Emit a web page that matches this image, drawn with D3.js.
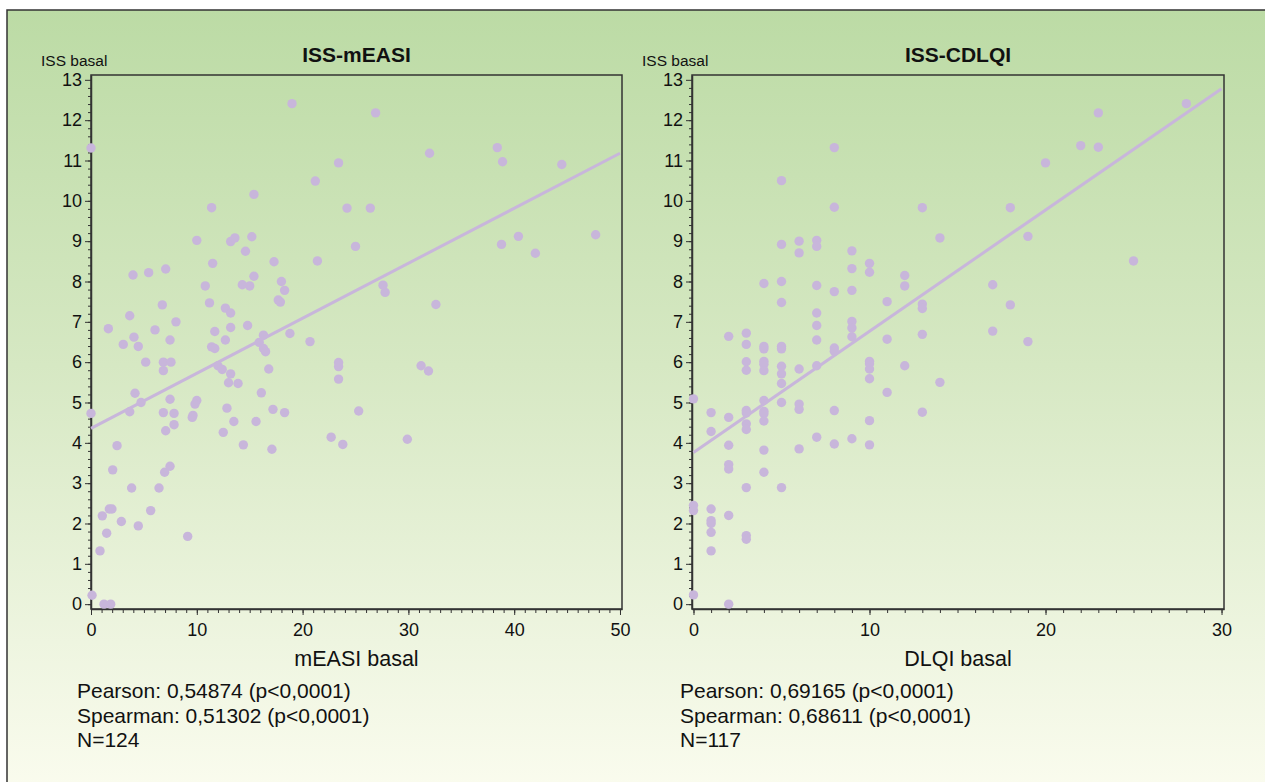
<!DOCTYPE html>
<html><head><meta charset="utf-8">
<script src="https://cdn.jsdelivr.net/npm/d3@7"></script>
<style>
body{margin:0;background:#fff;}
svg{display:block;font-family:"Liberation Sans",Arial,Helvetica,sans-serif;}
</style>
</head><body><svg id="c" width="1265" height="782"></svg>
<script>
// ---------- DATA ----------
const easiX = [0,19.0,11.4,15.4,21.2,23.4,26.9,32.0,38.4,38.9,44.5,24.2,26.4,25.0,38.8,40.4,42.0,47.7,27.6,27.8,32.6,
  23.4,23.4,23.4,31.2,31.9,25.3,22.7,23.8,29.9,10.0,13.2,13.6,15.2,14.6,11.5,21.4,17.3,3.97,5.45,7.06,15.4,18.0,10.8,14.3,15.0,18.3,
  11.2,6.74,17.7,17.9,12.7,13.2,3.66,8.03,1.64,6.05,13.2,14.8,11.7,16.3,18.8,20.7,4.06,3.05,4.47,7.47,12.7,11.4,11.7,15.9,16.3,16.5,
  5.17,6.84,7.56,6.84,12.0,12.4,16.8,13.2,13.0,13.9,4.16,16.1,7.47,4.73,10.0,9.83,0,3.66,6.84,7.85,12.85,17.2,18.3,7.06,7.85,9.64,9.57,
  12.5,13.5,15.6,14.4,17.1,2.46,2.05,3.84,6.43,6.96,7.47,1.73,1.98,1.07,2.87,4.47,5.64,1.48,0.85,9.14,0.1,1.23,1.86];
const easiY = [11.31,12.41,9.83,10.16,10.49,10.94,12.18,11.18,11.32,10.97,10.90,9.82,9.82,8.87,8.92,9.12,8.70,9.16,7.91,7.73,7.43,
  5.99,5.89,5.58,5.91,5.78,4.79,4.14,3.96,4.09,9.02,8.99,9.08,9.11,8.75,8.45,8.51,8.49,8.16,8.22,8.31,8.13,8.0,7.89,7.92,7.89,7.78,
  7.47,7.42,7.54,7.49,7.34,7.22,7.15,7.00,6.83,6.80,6.86,6.91,6.76,6.67,6.71,6.51,6.62,6.44,6.39,6.55,6.55,6.38,6.34,6.49,6.34,6.26,
  6.0,6.0,6.0,5.79,5.91,5.82,5.83,5.71,5.49,5.47,5.23,5.24,5.08,5.0,5.05,4.96,4.73,4.77,4.75,4.73,4.86,4.83,4.75,4.30,4.45,4.68,4.63,
  4.26,4.53,4.53,3.95,3.84,3.93,3.33,2.88,2.88,3.27,3.42,2.36,2.36,2.19,2.05,1.94,2.32,1.76,1.32,1.68,0.22,0,0];

const dlqiX = [0,0,0,0, 1,1,1,1,1,1,1, 2,2,2,2,2,2,2, 3,3,3,3,3,3,3,3,3,3,3, 4,4,4,4,4,4,4,4,4,4,4,4,
  5,5,5,5,5,5,5,5,5,5,5, 6,6,6,6,6,6, 7,7,7,7,7,7,7,7, 8,8,8,8,8,8,8, 9,9,9,9,9,9,9, 10,10,10,10,10,10,10,10,
  11,11,11, 12,12,12, 13,13,13,13,13, 14,14, 17,17, 18,18, 19,19, 20, 22, 23,23, 25, 28];
const dlqiY = [5.09,2.45,2.32,0.23, 4.75,4.28,2.36,2.07,2.0,1.78,1.32, 6.64,4.63,3.94,3.46,3.35,2.20,0.0,
  6.72,6.44,6.01,5.80,4.80,4.74,4.47,4.33,2.89,1.70,1.61, 7.95,6.39,6.33,6.02,5.95,5.79,5.05,4.78,4.72,4.54,3.82,3.27,
  10.50,8.92,8.0,7.48,6.39,6.33,5.90,5.71,5.47,5.0,2.89, 9.0,8.71,5.83,4.96,4.83,3.85,
  9.02,8.87,7.90,7.22,6.91,6.55,5.91,4.14, 11.32,9.84,7.75,6.35,6.27,4.80,3.97,
  8.76,8.32,7.78,7.01,6.85,6.63,4.10, 8.45,8.23,6.02,5.96,5.83,5.59,4.55,3.95,
  7.50,6.57,5.25, 8.15,7.89,5.91, 9.83,7.44,7.33,6.69,4.76, 9.08,5.50, 7.92,6.77, 9.83,7.42, 9.12,6.51,
  10.94, 11.37, 12.18,11.33, 8.51, 12.41];

const easiFitX = [0, 50];
const easiFitY = [4.36, 11.18];
const dlqiFitX = [0, 30];
const dlqiFitY = [3.76, 12.78];

const yTickValues = [0,1,2,3,4,5,6,7,8,9,10,11,12,13];
const easiTickValues = [0,10,20,30,40,50];
const dlqiTickValues = [0,10,20,30];

const titles = ["ISS-mEASI", "ISS-CDLQI"];
const xLabels = ["mEASI basal", "DLQI basal"];
const yLabel = "ISS basal";
const easiStats = ["Pearson: 0,54874 (p<0,0001)", "Spearman: 0,51302 (p<0,0001)", "N=124"];
const dlqiStats = ["Pearson: 0,69165 (p<0,0001)", "Spearman: 0,68611 (p<0,0001)", "N=117"];

// ---------- DRAW ----------
const svg = d3.select("#c");
const defs = svg.append("defs");
const grad = defs.append("linearGradient").attr("id","bg").attr("x1",0).attr("y1",0).attr("x2",0).attr("y2",1);
grad.append("stop").attr("offset","0%").attr("stop-color","#bcdba5");
grad.append("stop").attr("offset","45%").attr("stop-color","#d6e8c3");
grad.append("stop").attr("offset","80%").attr("stop-color","#eef5e0");
grad.append("stop").attr("offset","100%").attr("stop-color","#fbfcef");

svg.append("rect").attr("x",7).attr("y",10).attr("width",1275).attr("height",790)
  .attr("fill","url(#bg)").attr("stroke","#333").attr("stroke-width",1.5);

const dotColor = "#c8b6db";
const axisColor = "#333";

function panel(opt){
  const x = d3.scaleLinear().domain(opt.xDomain).range([opt.left, opt.right]);
  const y = d3.scaleLinear().domain([-0.12, 13.12]).range([609, 75]);
  const g = svg.append("g");

  g.append("rect").attr("x",opt.left).attr("y",75).attr("width",opt.right-opt.left).attr("height",609-75)
    .attr("fill","none").attr("stroke",axisColor).attr("stroke-width",1.5);

  const yMin = g.append("g").attr("transform",`translate(${opt.left},0)`)
    .call(d3.axisLeft(y).tickValues(d3.range(0,65).map(i=>i*0.2)).tickSize(3).tickSizeOuter(0).tickFormat(""));
  yMin.select(".domain").remove();
  yMin.selectAll("line").attr("stroke",axisColor);
  const yAx = g.append("g").attr("transform",`translate(${opt.left},0)`)
    .call(d3.axisLeft(y).tickValues(yTickValues).tickSize(6).tickSizeOuter(0).tickPadding(3));
  yAx.select(".domain").attr("stroke",axisColor).attr("stroke-width",1.5);
  yAx.selectAll("line").attr("stroke",axisColor);
  yAx.selectAll("text").attr("font-size",18).attr("fill","#111").attr("font-family","Liberation Sans, Arial, sans-serif");

  const xMin = g.append("g").attr("transform",`translate(0,609)`)
    .call(d3.axisBottom(x).tickValues(d3.range(0, opt.xMax+1)).tickSize(4).tickSizeOuter(0).tickFormat(""));
  xMin.select(".domain").remove();
  xMin.selectAll("line").attr("stroke",axisColor);
  const xAx = g.append("g").attr("transform",`translate(0,609)`)
    .call(d3.axisBottom(x).tickValues(opt.xTicks).tickSize(6).tickSizeOuter(0).tickPadding(8));
  xAx.select(".domain").attr("stroke",axisColor).attr("stroke-width",1.5);
  xAx.selectAll("line").attr("stroke",axisColor);
  xAx.selectAll("text").attr("font-size",18).attr("fill","#111").attr("font-family","Liberation Sans, Arial, sans-serif");

  g.append("line")
    .attr("x1",x(opt.fitX[0])).attr("y1",y(opt.fitY[0]))
    .attr("x2",x(opt.fitX[1])).attr("y2",y(opt.fitY[1]))
    .attr("stroke",dotColor).attr("stroke-width",3);

  g.selectAll("circle.d").data(d3.range(opt.xs.length)).join("circle")
    .attr("class","d")
    .attr("cx",i=>x(opt.xs[i])).attr("cy",i=>y(opt.ys[i]))
    .attr("r",4.7).attr("fill",dotColor);

  const cx = (opt.left+opt.right)/2;
  g.append("text").attr("x",cx).attr("y",62).attr("text-anchor","middle")
    .attr("font-size",21).attr("font-weight","bold").attr("fill","#111").text(opt.title);
  g.append("text").attr("x",opt.left-50).attr("y",66)
    .attr("font-size",15.5).attr("fill","#111").text(yLabel);
  g.append("text").attr("x",cx).attr("y",666).attr("text-anchor","middle")
    .attr("font-size",21.5).attr("fill","#111").text(opt.xLabel);
  opt.stats.forEach((s,i)=>{
    g.append("text").attr("x",opt.statsX).attr("y",698+i*24.5)
      .attr("font-size",21).attr("fill","#111").text(s);
  });
}

panel({left:91, right:622, xDomain:[0,50.19], xMax:50, xTicks:easiTickValues,
  xs:easiX, ys:easiY, fitX:easiFitX, fitY:easiFitY, title:titles[0], xLabel:xLabels[0], stats:easiStats, statsX:77});
panel({left:692, right:1224, xDomain:[-0.085,30.14], xMax:30, xTicks:dlqiTickValues,
  xs:dlqiX, ys:dlqiY, fitX:dlqiFitX, fitY:dlqiFitY, title:titles[1], xLabel:xLabels[1], stats:dlqiStats, statsX:680});
</script>
</body></html>
